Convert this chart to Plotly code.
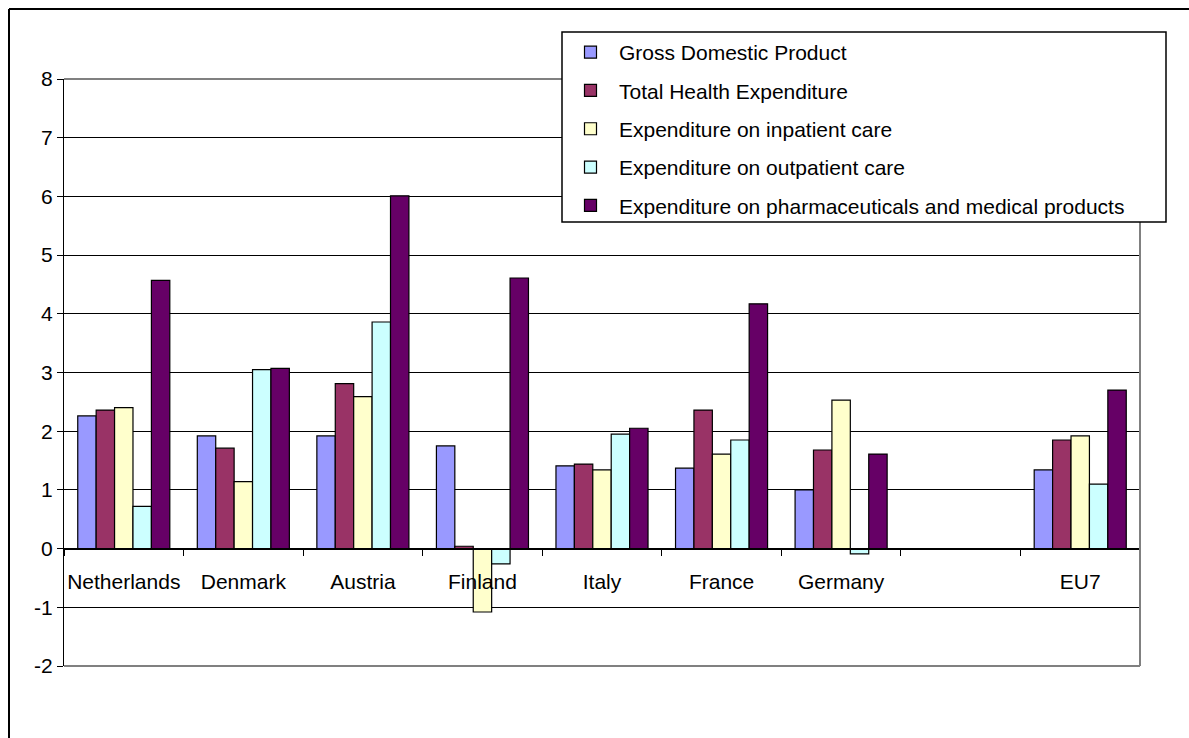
import plotly.graph_objects as go

# Categories (blank slot separates the countries from the EU7 average)
countries = ["Netherlands", "Denmark", "Austria", "Finland", "Italy",
             "France", "Germany", " ", "EU7"]

series_names = [
    "Gross Domestic Product",
    "Total Health Expenditure",
    "Expenditure on inpatient care",
    "Expenditure on outpatient care",
    "Expenditure on pharmaceuticals and medical products",
]

gdp = [2.26, 1.92, 1.92, 1.75, 1.41, 1.37, 1.00, None, 1.34]
total_health = [2.36, 1.71, 2.81, 0.04, 1.44, 2.36, 1.68, None, 1.85]
inpatient = [2.40, 1.14, 2.59, -1.08, 1.34, 1.61, 2.53, None, 1.92]
outpatient = [0.72, 3.05, 3.86, -0.26, 1.95, 1.85, -0.09, None, 1.10]
pharma = [4.57, 3.07, 6.01, 4.61, 2.05, 4.17, 1.61, None, 2.70]

y_ticks = list(range(-2, 9))

colors = ["#9999FF", "#993366", "#FFFFCC", "#CCFFFF", "#660066"]
values = [gdp, total_health, inpatient, outpatient, pharma]

FONT = "Liberation Sans, Arial, sans-serif"
FS = 21

fig = go.Figure()
for i, (name, vals, col) in enumerate(zip(series_names, values, colors)):
    fig.add_trace(go.Bar(
        x=countries, y=vals, name=name, legendgroup=f"g{i}",
        marker=dict(color=col, line=dict(color="black", width=1.2)),
    ))

# plot area in pixels: x 64..1140, y 79..666
L, R, T, B = 64, 1140, 79, 666
W, H = 1189, 738
pw, ph = R - L, B - T
xaxis_pos = 2 / 10  # y = 0 within the -2..8 range


def px_x(p):
    return (p - L) / pw


def px_y(p):
    return (B - p) / ph


grey = dict(color="#808080", width=2)
border = dict(color="black", width=2)

fig.update_layout(
    width=W, height=H,
    margin=dict(l=L, r=W - R, t=T, b=H - B, autoexpand=False),
    paper_bgcolor="white", plot_bgcolor="white",
    font=dict(family=FONT, size=FS, color="black"),
    barmode="group", bargap=0.23, bargroupgap=0,
    showlegend=True,
    legend=dict(
        x=px_x(562), y=px_y(32), xanchor="left", yanchor="top",
        bgcolor="rgba(0,0,0,0)", borderwidth=0,
        font=dict(family=FONT, size=FS, color="black"),
        traceorder="grouped", tracegroupgap=8, itemwidth=47,
    ),
    xaxis=dict(
        type="category", anchor="free", position=xaxis_pos,
        showline=True, linecolor="black", linewidth=1,
        ticks="outside", tickson="boundaries", ticklen=6,
        tickcolor="black", showgrid=False, zeroline=False,
        tickangle=0, ticklabelstandoff=14,
        tickfont=dict(family=FONT, size=FS, color="black"),
        fixedrange=True,
    ),
    yaxis=dict(
        range=[-2, 8], tickvals=y_ticks, ticktext=[str(v) for v in y_ticks],
        showgrid=True, gridcolor="black", gridwidth=1,
        showline=True, linecolor="black", linewidth=1,
        ticks="outside", ticklen=6, tickcolor="black",
        zeroline=False,
        tickfont=dict(family=FONT, size=FS, color="black"),
        fixedrange=True,
    ),
    shapes=[
        # grey frame on the top, right and bottom of the plot area
        dict(type="line", xref="paper", yref="paper", x0=0, x1=1, y0=1, y1=1,
             line=grey),
        dict(type="line", xref="paper", yref="paper", x0=1, x1=1, y0=0, y1=1,
             line=grey),
        dict(type="line", xref="paper", yref="paper", x0=0, x1=1, y0=0, y1=0,
             line=grey),
        # outer chart border (left and top edges)
        dict(type="line", xref="paper", yref="paper",
             x0=px_x(9), x1=px_x(9), y0=px_y(9), y1=px_y(760), line=border),
        dict(type="line", xref="paper", yref="paper",
             x0=px_x(9), x1=px_x(1200), y0=px_y(9), y1=px_y(9), line=border),
        # legend box
        dict(type="rect", xref="paper", yref="paper",
             x0=px_x(562), x1=px_x(1166), y0=px_y(222), y1=px_y(32),
             fillcolor="white", line=dict(color="black", width=1.5),
             layer="above"),
    ],
)

fig.write_html("out.html")
